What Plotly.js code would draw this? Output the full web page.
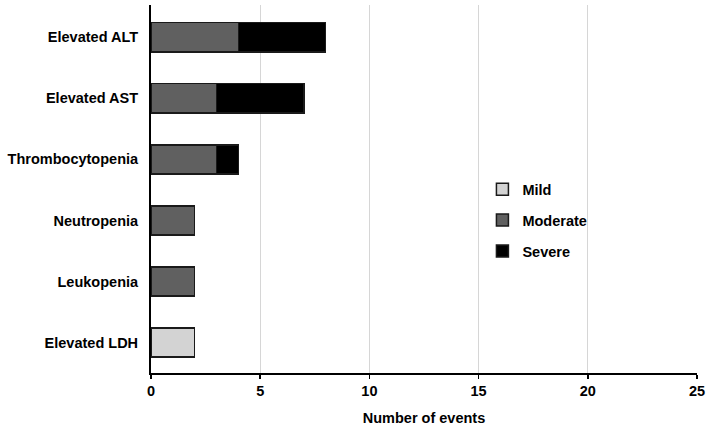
<!DOCTYPE html>
<html>
<head>
<meta charset="utf-8">
<script src="https://cdn.plot.ly/plotly-3.0.1.min.js"></script>
<style>html,body{margin:0;padding:0;background:#fff;}#chart{width:708px;height:427px;}</style>
</head>
<body>
<div id="chart"></div>
<script>
// Categories listed top to bottom as shown
const categories = ["Elevated ALT", "Elevated AST", "Thrombocytopenia", "Neutropenia", "Leukopenia", "Elevated LDH"];
const mildValues     = [0, 0, 0, 0, 0, 2];
const moderateValues = [4, 3, 3, 2, 2, 0];
const severeValues   = [4, 4, 1, 0, 0, 0];
const xTickValues = [0, 5, 10, 15, 20, 25];
const gridValues  = [5, 10, 15, 20];

const font = {family: "Liberation Sans, Arial, sans-serif", size: 14.5, color: "#000"};

function series(name, vals, color, group) {
  return {
    type: "bar", orientation: "h", name: name,
    x: vals, y: categories, legendgroup: group,
    width: 0.48,
    marker: {color: color, line: {color: "#1a1a1a", width: 1.5}},
    hoverinfo: "x+name"
  };
}

const data = [
  series("<b>Mild</b>", mildValues, "#d3d3d3", "a"),
  series("<b>Moderate</b>", moderateValues, "#606060", "b"),
  series("<b>Severe</b>", severeValues, "#000000", "c")
];

const layout = {
  width: 708, height: 427,
  margin: {l: 151, r: 11, t: 5, b: 54},
  paper_bgcolor: "#fff", plot_bgcolor: "rgba(0,0,0,0)",
  barmode: "stack",
  font: font,
  showlegend: true,
  legend: {x: 0.607, y: 0.415, xanchor: "left", yanchor: "middle",
           traceorder: "grouped", tracegroupgap: 9, font: font, bgcolor: "rgba(0,0,0,0)"},
  xaxis: {
    range: [0, 25], tickvals: xTickValues, ticktext: xTickValues.map(v => "<b>" + v + "</b>"),
    showgrid: false, zeroline: false,
    showline: true, linecolor: "#000", linewidth: 2,
    ticks: "outside", ticklen: 4, tickwidth: 1.5, tickcolor: "#000",
    tickfont: font,
    title: {text: "<b>Number of events</b>", font: font, standoff: 14}
  },
  xaxis2: {
    overlaying: "x", matches: "x", range: [0, 25], tickvals: gridValues,
    showticklabels: false, showgrid: true, gridcolor: "#d6d6d6", gridwidth: 1,
    zeroline: false, showline: false, ticks: ""
  },
  yaxis: {
    type: "category", categoryorder: "array", categoryarray: categories,
    range: [5.5, -0.53],
    tickvals: categories, ticktext: categories.map(c => "<b>" + c + "</b>"),
    showgrid: false, zeroline: false,
    showline: true, linecolor: "#000", linewidth: 2,
    ticks: "", ticklabelstandoff: 8, tickfont: font
  }
};

// invisible trace to activate gridline axis underneath
data.unshift({type: "scatter", x: [0], y: [categories[0]], xaxis: "x2", mode: "markers",
  marker: {opacity: 0}, showlegend: false, hoverinfo: "skip"});

Plotly.newPlot("chart", data, layout, {displayModeBar: false, staticPlot: true});
</script>
</body>
</html>
